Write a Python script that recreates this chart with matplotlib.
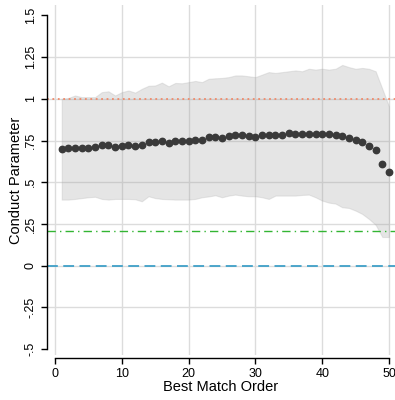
# Imports
import matplotlib
matplotlib.use('Agg')
import matplotlib.pyplot as plt
import numpy as np

# Plot configuration
plt.rcParams['font.family'] = ['Liberation Sans', 'DejaVu Sans']
plt.rcParams['grid.color'] = '#DCDCDC'
plt.rcParams['grid.linewidth'] = 1.0

# Data
order = list(range(1, 51))
conduct = [0.701, 0.703, 0.707, 0.705, 0.707, 0.709, 0.723, 0.721, 0.713, 0.717,
           0.723, 0.717, 0.725, 0.743, 0.739, 0.749, 0.735, 0.749, 0.747, 0.747,
           0.755, 0.751, 0.773, 0.771, 0.767, 0.777, 0.783, 0.781, 0.777, 0.773,
           0.781, 0.783, 0.785, 0.785, 0.793, 0.789, 0.789, 0.791, 0.791, 0.789,
           0.789, 0.785, 0.777, 0.767, 0.753, 0.739, 0.719, 0.691, 0.607, 0.559]
ci_upper = [1.000, 1.005, 1.020, 1.010, 1.010, 1.010, 1.040, 1.045, 1.020, 1.040,
            1.050, 1.037, 1.060, 1.078, 1.080, 1.097, 1.075, 1.095, 1.093, 1.100,
            1.107, 1.100, 1.120, 1.123, 1.125, 1.130, 1.140, 1.140, 1.135, 1.130,
            1.145, 1.160, 1.155, 1.160, 1.165, 1.170, 1.165, 1.180, 1.175, 1.180,
            1.175, 1.180, 1.203, 1.190, 1.180, 1.185, 1.180, 1.165, 1.060, 0.955]
ci_lower = [0.396, 0.396, 0.400, 0.405, 0.410, 0.413, 0.400, 0.396, 0.400, 0.400,
            0.400, 0.398, 0.386, 0.416, 0.405, 0.400, 0.398, 0.396, 0.396, 0.396,
            0.400, 0.410, 0.415, 0.422, 0.410, 0.420, 0.426, 0.420, 0.416, 0.416,
            0.410, 0.400, 0.420, 0.420, 0.420, 0.420, 0.424, 0.426, 0.410, 0.390,
            0.378, 0.372, 0.350, 0.346, 0.330, 0.310, 0.280, 0.245, 0.172, 0.172]

# Reference lines
ref_monopoly = 1.0
ref_cournot = 0.206
ref_perfect = 0.0

xticks = [0, 10, 20, 30, 40, 50]
yticks = [-0.5, -0.25, 0, 0.25, 0.5, 0.75, 1, 1.25, 1.5]
ytick_labels = ['-.5', '-.25', '0', '.25', '.5', '.75', '1', '1.25', '1.5']

fig = plt.figure(figsize=(3.95, 4.0), dpi=100)
ax = fig.add_axes([47 / 395, 45 / 400, 348 / 395, 350 / 400])

# Grid (not at the axis ends)
for xv in xticks:
    ax.axvline(xv, color='#DCDCDC', lw=1.0, zorder=0)
for yv in yticks[1:-1]:
    ax.axhline(yv, color='#DCDCDC', lw=1.0, zorder=0)

# Confidence band
ax.fill_between(order, ci_lower, ci_upper, facecolor='#999999', alpha=0.25,
                edgecolor='#AAAAAA', linewidth=0.8, zorder=1)

# Reference lines
ax.axhline(ref_monopoly, color='#F08A6A', ls=(0, (1, 2)), lw=1.3, zorder=2)
ax.axhline(ref_cournot, color='#33B533', ls=(0, (6, 3, 1, 3)), lw=1.0, zorder=2)
ax.axhline(ref_perfect, color='#3FA0C8', ls=(0, (6, 3)), lw=1.3, zorder=2)

# Estimates
ax.plot(order, conduct, 'o', color='#3A3A3A', ms=4.6, mec='#3A3A3A', zorder=3)

ax.set_xlim(-1.2, 50.9)
ax.set_ylim(-0.535, 1.562)
ax.set_xticks(xticks)
ax.set_yticks(yticks)
ax.set_yticklabels(ytick_labels, rotation=90, va='center')

for side in ['top', 'right']:
    ax.spines[side].set_visible(False)
ax.spines['left'].set_bounds(-0.5, 1.5)
ax.spines['bottom'].set_bounds(0, 50)
ax.spines['bottom'].set_position(('outward', 2))
ax.spines['left'].set_linewidth(1.0)
ax.spines['bottom'].set_linewidth(1.0)
ax.tick_params(axis='both', labelsize=9, length=4.5, width=1.0, pad=3)

ax.set_xlabel('Best Match Order', fontsize=10.5, labelpad=0)
ax.set_ylabel('Conduct Parameter', fontsize=10.5, labelpad=1)

plt.savefig('out.png', dpi=100)
